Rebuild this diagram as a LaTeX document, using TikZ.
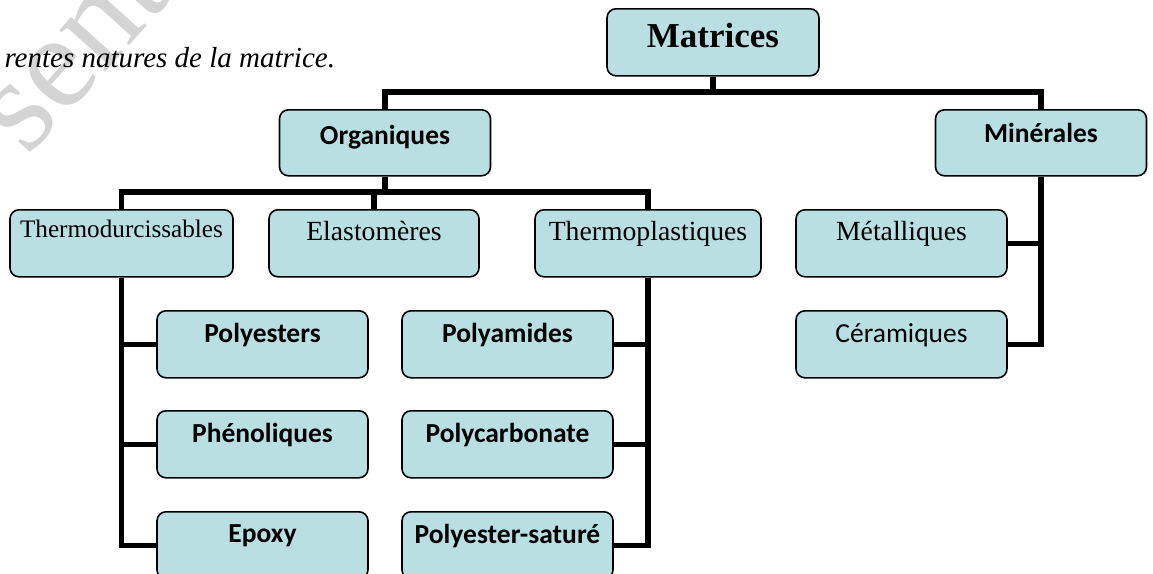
\documentclass[tikz,border=0pt]{standalone}
\usepackage{fontspec}
\setmainfont{Liberation Serif}
\newfontfamily\calibri{Carlito}
\definecolor{boxfill}{RGB}{185,223,227}

\begin{document}
\begin{tikzpicture}[x=1pt,y=-1pt,
    box/.style={draw=black,line width=1.6pt,fill=boxfill,rounded corners=9pt,
      inner sep=0pt,anchor=north,minimum width=211pt},
    sansbox/.style={box,font=\calibri\bfseries\fontsize{27.5}{30}\selectfont,
      text height=32pt,text depth=35pt},
    serifbox/.style={box,font=\fontsize{27.7}{30}\selectfont,
      text height=31pt,text depth=36pt},
    bus/.style={line width=5.5pt}]
  \useasboundingbox (0,0) rectangle (1153,573);
  \clip (0,0) rectangle (1153,573);
  % watermark and caption
  \node[rotate=48,text=black!17,font=\fontsize{135}{135}\selectfont] (wm) at (73,52) {sent};
  \node[anchor=base west,font=\itshape\fontsize{29}{32}\selectfont] (cap) at (1,67) {rentes natures de la matrice.};
  % top levels
  \node[box,minimum width=212pt,font=\bfseries\fontsize{35}{40}\selectfont,text height=39pt,text depth=28pt] (mat) at (713,8) {Matrices};
  \node[sansbox,text height=35pt,text depth=31pt] (org) at (385,109) {Organiques};
  \node[sansbox,text height=33pt,text depth=33pt] (min) at (1041,109) {Minérales};
  \node[serifbox,minimum width=223pt,font=\fontsize{25.2}{28}\selectfont,text height=28pt,text depth=39pt] (thd) at (121.5,209) {Thermodurcissables};
  \node[serifbox,minimum width=210pt] (ela) at (374,209) {Elastomères};
  \node[serifbox,minimum width=226pt] (thp) at (648,209) {Thermoplastiques};
  \node[serifbox] (met) at (901.5,209) {Métalliques};
  \node[sansbox,font=\calibri\fontsize{27.5}{30}\selectfont] (cer) at (901.5,310) {Céramiques};
  % thermodurcissables
  \node[sansbox] (pls) at (262.5,310) {Polyesters};
  \node[sansbox] (phe) at (262.5,410) {Phénoliques};
  \node[sansbox,text height=31pt,text depth=36pt] (epo) at (262.5,511) {Epoxy};
  % thermoplastiques
  \node[sansbox] (pam) at (507.5,310) {Polyamides};
  \node[sansbox] (pcb) at (507.5,410) {Polycarbonate};
  \node[sansbox] (pse) at (507.5,511) {Polyester-saturé};

  \coordinate (jm) at (713,92);
  \coordinate (jo) at (385,192);
  \draw[bus] (mat.south) -- (jm);
  \draw[bus] (org.north) |- (jm) -| (min.north);
  \draw[bus] (org.south) -- (jo);
  \draw[bus] (thd.north) |- (jo) -| (thp.north);
  \draw[bus] (ela.north) -- (ela.north |- jo);
  \draw[bus] (thd.south) |- (epo.west);
  \draw[bus] (pls.west) -- (pls.west -| thd.south);
  \draw[bus] (phe.west) -- (phe.west -| thd.south);
  \draw[bus] (thp.south) |- (pse.east);
  \draw[bus] (pam.east) -- (pam.east -| thp.south);
  \draw[bus] (pcb.east) -- (pcb.east -| thp.south);
  \draw[bus] (min.south) |- (cer.east);
  \draw[bus] (met.east) -- (met.east -| min.south);
\end{tikzpicture}
\end{document}
